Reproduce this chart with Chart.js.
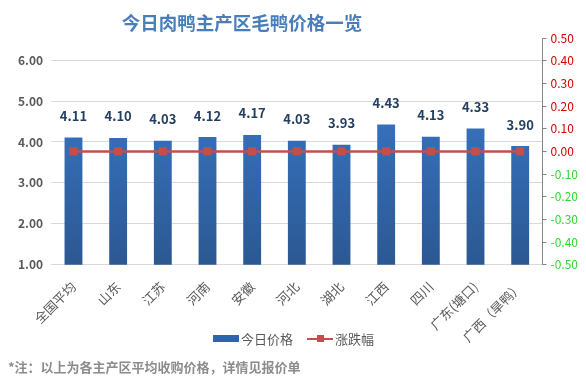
<!DOCTYPE html>
<html>
<head>
<meta charset="utf-8">
<script src="https://cdn.jsdelivr.net/npm/chart.js@4"></script>
<style>
  html, body { margin: 0; padding: 0; background: #fff; }
  #wrap { position: relative; width: 586px; height: 390px; font-family: "Noto Sans CJK SC", sans-serif; }
  #title { position: absolute; left: 92px; top: 8px; width: 300px; text-align: center;
    font-size: 18.5px; font-weight: bold; color: #4A7EBB; line-height: 28px; }
  #legend { position: absolute; left: 213px; top: 329px; font-size: 13px; color: #595959; display: flex; align-items: center; }
  #legend .item { display: flex; align-items: center; margin-right: 14px; }
  #legend .box { width: 26px; height: 7px; background: #2F64A8; margin-right: 2px; }
  #legend .ln { position: relative; width: 26px; height: 2px; background: #C0504D; margin-right: 2px; }
  #legend .ln span { position: absolute; left: 10px; top: -3px; width: 7px; height: 7px; background: #C0504D; }
  #note { position: absolute; left: 8px; top: 357px; font-size: 13px; font-weight: bold; color: #8C8C8C; }
  canvas { position: absolute; left: 0; top: 0; }
</style>
</head>
<body>
<div id="wrap">
  <canvas id="c" width="586" height="390"></canvas>
  <div id="title">今日肉鸭主产区毛鸭价格一览</div>
  <div id="legend">
    <div class="item"><div class="box"></div>今日价格</div>
    <div class="item"><div class="ln"><span></span></div>涨跌幅</div>
  </div>
  <div id="note">*注：以上为各主产区平均收购价格，详情见报价单</div>
</div>
<script>
// Categories and series
const regions = ["全国平均", "山东", "江苏", "河南", "安徽", "河北", "湖北", "江西", "四川", "广东(塘口)", "广西（旱鸭）"];
const todayPrice = [4.11, 4.10, 4.03, 4.12, 4.17, 4.03, 3.93, 4.43, 4.13, 4.33, 3.90];
const change = [0, 0, 0, 0, 0, 0, 0, 0, 0, 0, 0];

const FONT = '"Noto Sans CJK SC", sans-serif';

// Value labels above each bar (bar dataset is index 1)
const barLabels = {
  id: "barLabels",
  afterDatasetsDraw(chart) {
    const { ctx } = chart;
    const meta = chart.getDatasetMeta(1);
    ctx.save();
    ctx.font = "bold 13px " + FONT;
    ctx.fillStyle = "#243F60";
    ctx.textAlign = "center";
    ctx.textBaseline = "bottom";
    meta.data.forEach((bar, i) => {
      ctx.fillText(todayPrice[i].toFixed(2), bar.x, bar.y - 15);
    });
    ctx.restore();
  },
};

function barGradient(ctx) {
  const area = ctx.chart.chartArea;
  if (!area) return "#2F64A8";
  const g = ctx.chart.ctx.createLinearGradient(0, area.top, 0, area.bottom);
  g.addColorStop(0, "#3D7ED2");
  g.addColorStop(1, "#2B5892");
  return g;
}

new Chart(document.getElementById("c"), {
  data: {
    labels: regions,
    datasets: [
      {
        type: "line",
        label: "涨跌幅",
        data: change,
        yAxisID: "y1",
        borderColor: "#C0504D",
        backgroundColor: "#C0504D",
        borderWidth: 2.5,
        pointStyle: "rect",
        pointRadius: 4,
        order: 0,
      },
      {
        type: "bar",
        label: "今日价格",
        data: todayPrice,
        yAxisID: "y",
        backgroundColor: barGradient,
        categoryPercentage: 1,
        barPercentage: 0.4,
        order: 1,
      },
    ],
  },
  options: {
    responsive: false,
    animation: false,
    layout: { padding: { top: 38, left: 10, right: 4, bottom: 39 } },
    scales: {
      x: {
        grid: { display: false },
        border: { display: false },
        ticks: { minRotation: 45, maxRotation: 45, color: "#595959", font: { size: 13, family: FONT }, padding: 6 },
      },
      y: {
        position: "left",
        min: 1, max: 6.54,
        afterBuildTicks: (axis) => { axis.ticks = axis.ticks.filter(t => t.value <= 6); },
        grid: { color: "#D9D9D9", drawTicks: false },
        border: { display: false },
        ticks: { stepSize: 1, padding: 8, color: "#595959", font: { size: 12, weight: "bold", family: FONT },
          callback: (v) => Number(v).toFixed(2) },
      },
      y1: {
        position: "right",
        min: -0.5, max: 0.5,
        grid: { drawOnChartArea: false, color: "#868686", tickLength: 4 },
        border: { display: true, color: "#868686" },
        ticks: {
          stepSize: 0.1, padding: 4,
          font: { size: 12, family: FONT },
          color: (c) => (c.tick && c.tick.value < -0.001 ? "#33D633" : "#D00000"),
          callback: (v) => (Math.abs(v) < 1e-9 ? 0 : Number(v)).toFixed(2),
        },
      },
    },
    plugins: {
      legend: { display: false },
      tooltip: { enabled: false },
    },
  },
  plugins: [barLabels],
});
</script>
</body>
</html>
